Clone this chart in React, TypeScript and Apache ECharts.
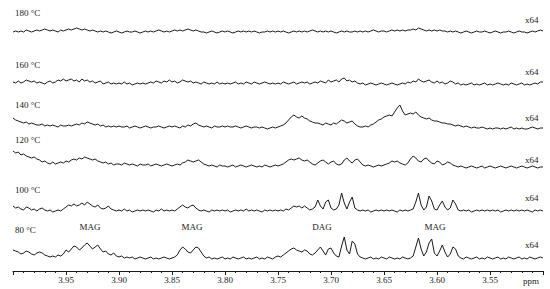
import React, { useEffect, useRef } from "react";
import * as echarts from "echarts";

// Sampling grid of the spectra (ppm), 4.000 → 3.500 in steps of 0.0025
const PPM_START = 4.0;
const PPM_STEP = 0.0025;

const temperatures = ["180 °C", "160 °C", "140 °C", "120 °C", "100 °C", "80 °C"];
const scaleLabel = "x64";
const xTicks = [3.95, 3.9, 3.85, 3.8, 3.75, 3.7, 3.65, 3.6, 3.55];
const peakLabels = ["MAG", "MAG", "DAG", "MAG"];

// intensities (arbitrary units, relative to each trace's own baseline)
const trace180 = [
  0, 1, 0, 1, 0, 2, 1, 0, 1, 2,
  1, 2, 3, 2, 1, 2, 1, 0, 2, 1,
  2, 3, 2, 3, 4, 3, 2, 3, 2, 1,
  2, 1, 0, 1, 0, 1, 0, -1, 0, 1,
  0, -1, 0, 1, 0, 0, 1, 0, -1, 0,
  1, 0, 1, 0, 1, 2, 1, 0, 1, 0,
  1, 2, 1, 2, 1, 2, 3, 2, 1, 2,
  1, 0, 0, -1, 0, 1, 0, -1, 0, 1,
  0, 1, 0, -1, 0, 1, 0, 1, 0, 1,
  0, 1, 0, -1, 0, 0, 1, 0, 1, 0,
  1, 0, 1, 0, -1, 0, 1, 0, 1, 0,
  1, 0, 1, 2, 1, 0, 1, 0, 1, 0,
  1, 0, -1, 0, 1, 0, 1, 0, 0, 1,
  0, 1, 0, 1, 0, 1, 2, 1, 0, 1,
  1, 0, 1, 2, 1, 2, 1, 2, 1, 2,
  2, 3, 2, 4, 3, 2, 1, 2, 1, 2,
  1, 2, 1, 1, 0, 1, 0, 1, 0, -1,
  0, 1, 0, -1, 0, 1, 0, 0, 1, 0,
  -1, 0, 1, 0, -1, 0, 0, 1, 0, -1,
  0, 1, 0, 0, -1, 0, 1, 0, 1, 2,
  1,
];
const trace160 = [
  2, 1, 3, 1, 2, 4, 3, 2, 3, 1,
  2, 1, 0, 2, 3, 1, 2, 4, 3, 5,
  3, 4, 5, 3, 4, 2, 5, 3, 4, 2,
  3, 1, 2, 3, 0, 1, 2, 0, 1, 0,
  1, 0, 2, 0, 1, -1, 0, 1, 0, 1,
  0, 1, 2, 1, 3, 2, 1, 3, 2, 4,
  2, 3, 1, 2, 4, 3, 2, 3, 1, 2,
  1, 0, 2, 1, 0, 1, 0, 2, 0, 1,
  0, 1, 0, 1, 2, 0, 1, 0, 2, 1,
  0, 2, 1, 0, 1, 2, 1, 0, 1, 0,
  1, 0, 2, 1, 0, 1, 2, 0, 1, 2,
  1, 2, 0, 1, 2, 1, 3, 2, 1, 4,
  2, 3, 4, 2, 5, 6, 3, 4, 2, 3,
  1, 0, 1, -1, 0, 1, 0, -1, 0, 1,
  0, -1, 0, 1, 0, -1, 0, 1, 0, 2,
  1, 3, 2, 5, 3, 2, 3, 4, 2, 1,
  3, 1, 2, 0, 1, 3, 2, 0, 1, -1,
  0, -1, 0, 1, -1, 0, -1, 0, 1, -1,
  0, -1, 0, 1, 0, -1, 0, -1, 1, 0,
  -1, 0, 1, -1, 0, -1, 0, 1, 0, 2,
  2,
];
const trace140 = [
  11, 9, 8, 7, 6, 7, 5, 6, 5, 4,
  4, 5, 3, 4, 3, 4, 3, 2, 4, 3,
  3, 4, 3, 4, 5, 4, 6, 5, 7, 6,
  5, 4, 5, 3, 4, 2, 3, 2, 3, 2,
  3, 2, 2, 3, 1, 2, 3, 2, 1, 2,
  3, 2, 1, 2, 2, 3, 2, 1, 2, 3,
  2, 3, 2, 1, 3, 2, 4, 3, 5, 6,
  4, 3, 2, 3, 2, 1, 3, 2, 2, 3,
  2, 3, 2, 2, 3, 2, 1, 2, 3, 2,
  1, 2, 2, 1, 2, 1, 0, 1, 2, 1,
  2, 3, 4, 6, 9, 12, 14, 12, 11, 13,
  11, 10, 8, 7, 6, 6, 5, 4, 6, 5,
  4, 6, 5, 7, 9, 8, 6, 7, 8, 5,
  3, 2, 2, 3, 2, 4, 5, 7, 9, 10,
  12, 13, 14, 13, 17, 21, 24, 18, 14, 15,
  16, 15, 17, 14, 12, 11, 10, 11, 9, 8,
  8, 7, 6, 6, 5, 5, 4, 3, 4, 3,
  2, 3, 2, 1, 2, 1, 1, 2, 1, 0,
  1, 0, 1, 1, 0, 1, 0, 1, 2, 0,
  1, 0, 1, 0, 0, 1, 2, 1, 0, 1,
  1,
];
const trace120 = [
  16, 14, 15, 12, 13, 11, 10, 9, 10, 8,
  7, 5, 6, 4, 3, 5, 3, 4, 5, 4,
  6, 5, 7, 8, 7, 9, 8, 10, 9, 8,
  7, 8, 6, 5, 4, 5, 3, 4, 2, 3,
  3, 2, 4, 3, 2, 3, 2, 1, 3, 2,
  2, 3, 1, 2, 3, 2, 1, 2, 3, 2,
  1, 2, 3, 2, 4, 5, 7, 6, 5, 6,
  7, 5, 3, 2, 1, 2, 1, 0, 2, 1,
  1, 0, 1, 2, 0, 1, 2, 1, 0, 1,
  2, 1, 0, 1, 0, 2, 1, 0, 1, 2,
  1, 2, 3, 5, 7, 8, 7, 8, 9, 7,
  6, 7, 5, 3, 2, 4, 6, 7, 5, 3,
  5, 6, 3, 2, 3, 7, 9, 6, 4, 7,
  8, 5, 2, 1, 2, 1, 0, 1, 2, 1,
  2, 3, 4, 6, 5, 6, 4, 3, 2, 4,
  8, 11, 9, 6, 5, 8, 9, 6, 4, 3,
  6, 5, 2, 3, 5, 4, 2, 1, 0, 1,
  0, -1, 0, 1, 0, -1, 0, 1, -1, 0,
  1, 0, -1, 0, 1, 0, -1, 0, 1, 0,
  -1, 0, 1, 0, -1, 0, 1, 0, -1, 0,
  0,
];
const trace100 = [
  5, 3, 4, 2, 1, 4, 3, 1, 2, 0,
  2, 3, 1, 0, 1, -1, 0, 1, 0, 2,
  4, 6, 5, 7, 5, 6, 8, 6, 9, 7,
  5, 4, 6, 3, 2, 3, 5, 2, 1, 0,
  1, 0, 2, 0, 1, -1, 0, 1, 0, 1,
  0, 1, 0, -1, 1, 0, 2, 0, 1, 0,
  1, 0, 2, 4, 6, 4, 3, 5, 6, 3,
  1, 0, 1, 0, -1, 1, 0, 1, 0, 1,
  0, 1, -1, 0, 1, 0, 1, 0, 2, 0,
  1, 0, 1, 0, -1, 1, 0, 1, 0, 1,
  0, 1, 0, 2, 1, 3, 5, 4, 5, 3,
  5, 3, 1, 2, 4, 11, 5, 2, 9, 11,
  3, 1, 2, 6, 18, 8, 2, 9, 14, 3,
  1, 0, 1, 0, 1, -1, 0, 1, 0, 1,
  0, 1, 0, 1, 0, -1, 1, 0, 1, 0,
  1, 2, 9, 18, 6, 1, 4, 15, 10, 2,
  1, 6, 10, 4, 1, 3, 11, 7, 1, 0,
  1, 0, 1, -1, 0, 1, 0, 1, 0, 1,
  0, 1, 0, 1, -1, 0, 1, 0, 1, 0,
  1, 0, 1, 0, 1, 0, -1, 1, 0, 1,
  0,
];
const trace80 = [
  9, 8, 7, 5, 6, 8, 7, 5, 4, 6,
  7, 6, 4, 3, 2, 3, 2, 4, 3, 5,
  9, 7, 10, 13, 12, 9, 11, 14, 16, 13,
  10, 12, 14, 10, 7, 8, 5, 4, 6, 3,
  2, 3, 1, 2, 1, 2, 0, 1, 2, 1,
  0, 1, 2, 0, 1, 0, 1, 2, 1, 0,
  1, 2, 4, 9, 12, 10, 7, 6, 9, 12,
  11, 7, 3, 1, 2, 0, 1, 0, 1, 2,
  0, 1, 0, 2, 1, 0, 1, 2, 0, 1,
  0, 1, 2, 0, 1, 0, 2, 1, 0, 2,
  3, 2, 4, 6, 8, 10, 11, 9, 8, 7,
  9, 8, 5, 4, 6, 9, 12, 8, 4, 10,
  11, 6, 3, 2, 13, 22, 9, 5, 18, 15,
  5, 2, 1, 0, 1, 2, 0, 1, 0, 2,
  1, 0, 2, 1, 0, 1, 0, 2, 1, 0,
  1, 3, 12, 21, 10, 3, 7, 16, 20, 6,
  3, 8, 14, 7, 2, 5, 12, 10, 3, 1,
  0, 2, 1, 0, 1, 2, 0, 1, 0, 2,
  1, 0, 1, 2, 0, 1, 0, 2, 1, 0,
  1, 2, 0, 1, 0, 2, 1, 0, 1, 2,
  1,
];

const traces = [trace180, trace160, trace140, trace120, trace100, trace80];

// layout (stack offsets in plot units = px above x-axis)
const offsets = [239, 187, 142, 104, 60, 12];
const tempLabelY = [13, 65, 105, 140, 190, 230];
const scaleLabelY = [20, 72, 118, 160, 198, 245];
const peakLabelX = [90, 192, 322, 435];
const peakLabelY = 227;

const FONT = '"Liberation Serif", "DejaVu Serif", serif';
const INK = "#1a1a1a";

export default function App() {
  const ref = useRef<HTMLDivElement>(null);

  useEffect(() => {
    if (!ref.current) return;
    const chart = echarts.init(ref.current, null, { renderer: "svg" });

    const series = traces.map((tr, k) => ({
      type: "line",
      name: temperatures[k],
      symbol: "none",
      smooth: false,
      silent: true,
      lineStyle: { color: INK, width: 1 },
      data: tr.map((v, i) => [PPM_START - i * PPM_STEP, offsets[k] + v]),
    }));

    const graphics: any[] = [];
    temperatures.forEach((t, k) => {
      graphics.push({
        type: "text",
        left: 15,
        top: tempLabelY[k] - 5,
        style: { text: t, fill: INK, font: `9px ${FONT}` },
      });
      graphics.push({
        type: "text",
        left: 525,
        top: scaleLabelY[k] - 5,
        style: { text: scaleLabel, fill: INK, font: `9px ${FONT}` },
      });
    });
    peakLabels.forEach((p, k) => {
      graphics.push({
        type: "text",
        x: peakLabelX[k],
        y: peakLabelY,
        style: {
          text: p,
          fill: INK,
          font: `9px ${FONT}`,
          align: "center",
          verticalAlign: "middle",
        },
      });
    });
    graphics.push({
      type: "text",
      x: 531,
      y: 281,
      style: { text: "ppm", fill: INK, font: `9px ${FONT}`, align: "center", verticalAlign: "middle" },
    });

    chart.setOption({
      animation: false,
      backgroundColor: "#fff",
      grid: { left: 13, right: 7, top: 0, bottom: 18, containLabel: false },
      xAxis: {
        type: "value",
        min: 3.5,
        max: 4.0,
        interval: 0.05,
        inverse: true,
        axisLine: { show: true, lineStyle: { color: INK, width: 1 } },
        axisTick: { show: true, length: 4, inside: false, lineStyle: { color: INK } },
        minorTick: { show: true, splitNumber: 5, length: 2, lineStyle: { color: INK } },
        splitLine: { show: false },
        minorSplitLine: { show: false },
        axisLabel: {
          margin: 4,
          color: INK,
          fontFamily: FONT,
          fontSize: 9,
          formatter: (v: number) => {
            const hit = xTicks.find((t) => Math.abs(t - v) < 1e-6);
            return hit !== undefined ? hit.toFixed(2) : "";
          },
        },
      },
      yAxis: { type: "value", min: 0, max: 271, show: false },
      series,
      graphic: graphics,
    });

    return () => chart.dispose();
  }, []);

  return <div ref={ref} style={{ width: 550, height: 289, position: "absolute", left: 0, top: 0 }} />;
}
